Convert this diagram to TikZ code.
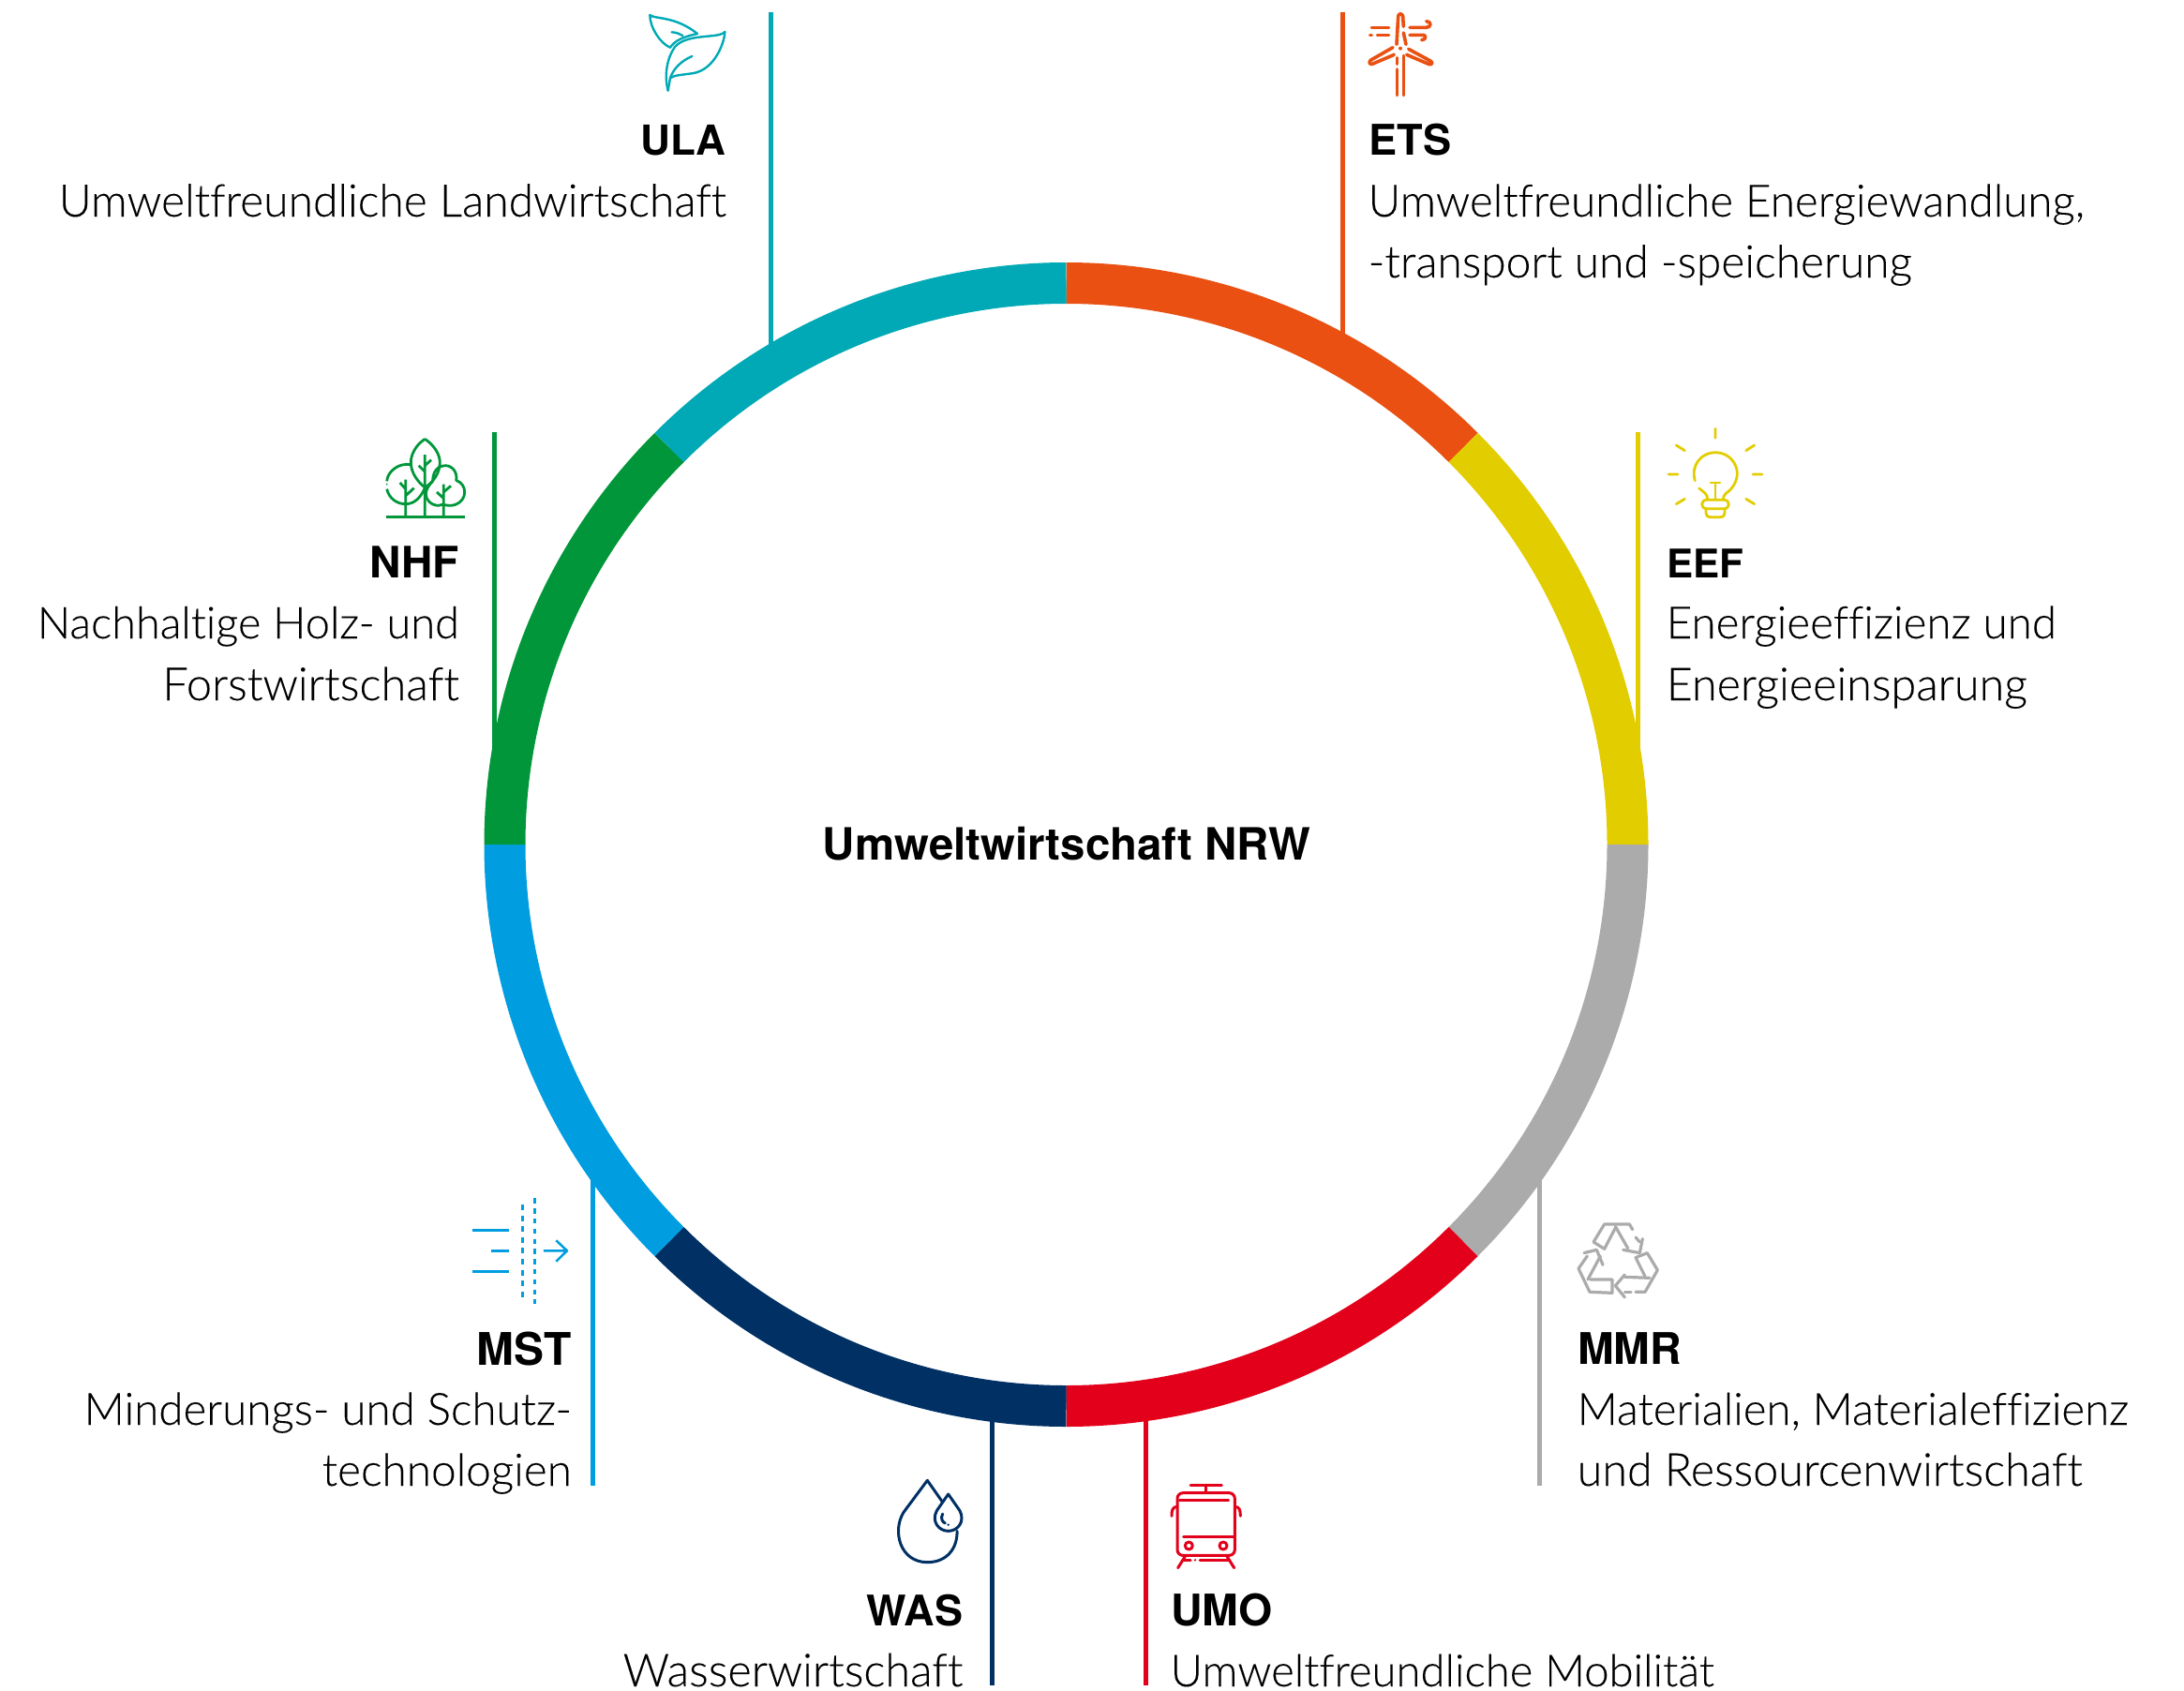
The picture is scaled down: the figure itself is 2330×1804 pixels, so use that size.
\documentclass[tikz,border=0pt]{standalone}
\usetikzlibrary{calc}
\usepackage{graphicx}
\usepackage{fontspec}
\setmainfont{Lato}[UprightFont=* Light,BoldFont=* Bold,Ligatures=NoCommon,FakeBold=0.12]
\newfontfamily\headfont{TeX Gyre Heros}[UprightFont=*-Bold]
\newcommand{\fitw}[2]{\resizebox{#1pt}{!}{\strut #2}}
\definecolor{cteal}{HTML}{00A9B5}
\definecolor{corange}{HTML}{E95012}
\definecolor{cyellow}{HTML}{E2CD00}
\definecolor{cgrey}{HTML}{ABABAB}
\definecolor{cred}{HTML}{E2001A}
\definecolor{cnavy}{HTML}{003064}
\definecolor{cblue}{HTML}{009DE0}
\definecolor{cgreen}{HTML}{009639}
\tikzset{
 seg/.style={line width=44pt,line cap=butt},
 conn/.style={line width=5pt},
 head/.style={font=\fontsize{47}{54}\selectfont\headfont,inner sep=0pt,text=black},
 desc/.style={font=\fontsize{47.5}{54}\selectfont,inner sep=0pt,text=black},
 icon/.style={line width=8.5pt,line cap=round,line join=round},
}
\begin{document}
\begin{tikzpicture}[x=1pt,y=-1pt]
\useasboundingbox (0,0) rectangle (2330,1804);
\coordinate (C) at (1137.5,901);
% connector ends
\coordinate (ulaT) at (822.5,13); \coordinate (ulaB) at (822.5,385);
\coordinate (etsT) at (1432.5,13); \coordinate (etsB) at (1432.5,375);
\coordinate (eefT) at (1747.5,461); \coordinate (eefB) at (1747.5,810);
\coordinate (nhfT) at (527.5,461); \coordinate (nhfB) at (527.5,810);
\coordinate (mstT) at (632.5,1585); \coordinate (mstB) at (632.5,1240);
\coordinate (mmrT) at (1642.5,1585); \coordinate (mmrB) at (1642.5,1240);
\coordinate (wasT) at (1058.5,1798); \coordinate (wasB) at (1058.5,1505);
\coordinate (umoT) at (1222.5,1798); \coordinate (umoB) at (1222.5,1505);
\draw[conn,cteal] (ulaT)--(ulaB);
\draw[conn,corange] (etsT)--(etsB);
\draw[conn,cyellow] (eefT)--(eefB);
\draw[conn,cgreen] (nhfT)--(nhfB);
\draw[conn,cblue] (mstT)--(mstB);
\draw[conn,cgrey] (mmrT)--(mmrB);
\draw[conn,cnavy] (wasT)--(wasB);
\draw[conn,cred] (umoT)--(umoB);
% ring (y axis flipped: angles run clockwise)
\foreach \c/\a in {corange/-90,cyellow/-45,cgrey/0,cred/45,cnavy/90,cblue/135,cgreen/180,cteal/225}
 \draw[seg,\c] ($(C)+(\a:599)$) arc[start angle=\a,delta angle=45,radius=599];
\node[head,anchor=base] (title) at (1138,917) {\fitw{520}{Umweltwirtschaft NRW}};
% texts
\node[head,anchor=base east] (ulaH) at (775,165) {\fitw{91}{ULA}};
\node[desc,anchor=base east] (ulaD) at (775,231) {\fitw{712}{Umweltfreundliche Landwirtschaft}};
\node[head,anchor=base west] (etsH) at (1460,165) {\fitw{88}{ETS}};
\node[desc,anchor=base west] (etsD) at (1459.5,231) {\fitw{764}{Umweltfreundliche Energiewandlung,}};
\node[desc,anchor=base west] (etsE) at (1459.5,296) {\fitw{580}{-transport und -speicherung}};
\node[head,anchor=base east] (nhfH) at (490,616) {\fitw{95}{NHF}};
\node[desc,anchor=base east] (nhfD) at (490,681) {\fitw{450}{Nachhaltige Holz- und}};
\node[desc,anchor=base east] (nhfE) at (490,747) {\fitw{316.5}{Forstwirtschaft}};
\node[head,anchor=base west] (eefH) at (1778,616) {\fitw{82}{EEF}};
\node[desc,anchor=base west] (eefD) at (1777.5,681) {\fitw{416}{Energieeffizienz und}};
\node[desc,anchor=base west] (eefE) at (1777.5,747) {\fitw{385}{Energieeinsparung}};
\node[head,anchor=base east] (mstH) at (610,1456) {\fitw{101}{MST}};
\node[desc,anchor=base east] (mstD) at (610,1520) {\fitw{520}{Minderungs- und Schutz-}};
\node[desc,anchor=base east] (mstE) at (610,1585) {\fitw{266}{technologien}};
\node[head,anchor=base west] (mmrH) at (1683,1455) {\fitw{111}{MMR}};
\node[desc,anchor=base west] (mmrD) at (1682.5,1520) {\fitw{588}{Materialien, Materialeffizienz}};
\node[desc,anchor=base west] (mmrE) at (1682.5,1585) {\fitw{539}{und Ressourcenwirtschaft}};
\node[head,anchor=base east] (wasH) at (1027.5,1734) {\fitw{102.5}{WAS}};
\node[desc,anchor=base east] (wasD) at (1027.5,1799) {\fitw{362.6}{Wasserwirtschaft}};
\node[head,anchor=base west] (umoH) at (1249,1734) {\fitw{108.5}{UMO}};
\node[desc,anchor=base west] (umoD) at (1248.5,1799) {\fitw{580}{Umweltfreundliche Mobilität}};
% leaf icon
\begin{scope}[shift={(670,0)},x=0.3333pt,y=-0.3333pt,icon,cteal,line width=2.4pt]
\draw (70,48) .. controls (85,62) and (150,50) .. (222,108);
\draw (70,48) .. controls (70,90) and (105,140) .. (135,152);
\draw (135,152) .. controls (150,130) and (175,118) .. (222,108);
\draw (140,103) .. controls (155,104) and (165,108) .. (175,114);
\draw (310,102) .. controls (290,125) and (190,105) .. (150,150) .. controls (125,185) and (115,240) .. (128,290);
\draw (310,102) .. controls (310,130) and (280,225) .. (205,235) .. controls (170,240) and (150,240) .. (135,250) -- (128,290);
\draw (205,180) .. controls (170,195) and (145,220) .. (135,250);
\end{scope}
% turbine icon
\begin{scope}[shift={(1440,0)},x=0.3333pt,y=-0.3333pt,icon,corange,line width=3.6pt]
\fill (162,155) circle[radius=6];
\draw (150,142) -- (155,52) .. controls (157,42) and (167,42) .. (170,52) -- (172,85);
\draw (172,105) -- (180,142);
\draw (138,152) -- (68,192) .. controls (60,197) and (62,208) .. (72,205) -- (142,175);
\draw (188,157) -- (258,195) .. controls (268,200) and (262,210) .. (252,205) -- (182,175);
\draw (152,185) -- (152,205);
\draw (152,222) -- (152,305);
\draw (173,178) -- (173,305);
\draw (70,88) -- (125,88);
\draw (65,112) -- (70,112);
\draw (88,112) -- (125,112);
\draw (192,88) -- (245,88) .. controls (262,88) and (262,68) .. (245,68);
\draw (192,112) -- (235,112) .. controls (245,112) and (245,128) .. (230,128);
\end{scope}
% trees icon
\begin{scope}[shift={(400,450)},x=0.3333pt,y=-0.3333pt,icon,cgreen,line width=2.8pt,line cap=butt]
\draw (35,304) -- (287,304);
\draw (98,304) -- (98,185) (80,195) -- (98,215) (125,212) -- (98,237);
\draw (160,304) -- (160,105) (140,140) -- (160,160) (180,122) -- (160,140);
\draw (220,304) -- (220,200) (198,225) -- (220,245) (243,205) -- (220,225);
\draw (115,137) .. controls (75,130) and (40,160) .. (38,190);
\fill (38,200) circle[radius=3];
\draw (38,215) .. controls (45,245) and (70,263) .. (98,263) .. controls (125,263) and (145,245) .. (160,212);
\draw (160,55) .. controls (130,75) and (115,105) .. (115,130) .. controls (115,165) and (140,195) .. (160,210) .. controls (185,195) and (208,165) .. (208,130) .. controls (208,105) and (190,75) .. (160,55);
\draw (185,190) .. controls (185,155) and (205,140) .. (225,140) .. controls (250,140) and (265,165) .. (260,187) .. controls (280,195) and (287,210) .. (287,225) .. controls (287,250) and (265,268) .. (240,268) .. controls (225,268) and (215,262) .. (205,268) .. controls (180,268) and (163,250) .. (163,232) .. controls (163,215) and (175,200) .. (185,190);
\end{scope}
% bulb icon
\begin{scope}[shift={(1770,450)},x=0.3333pt,y=-0.3333pt,icon,cyellow,line width=2.8pt]
\draw (180,22) -- (180,52) (55,75) -- (82,92) (305,75) -- (278,92) (30,168) -- (60,168) (300,168) -- (330,168) (55,263) -- (82,247) (278,247) -- (305,263);
\draw (115,188) .. controls (100,140) and (135,98) .. (180,98) .. controls (225,98) and (250,135) .. (250,165) .. controls (250,190) and (235,215) .. (215,228) .. controls (207,235) and (205,240) .. (205,250);
\draw (128,213) -- (147,228) .. controls (153,235) and (155,240) .. (155,250);
\draw (165,195) -- (195,195) (180,195) -- (180,250);
\draw (152,250) -- (208,250) .. controls (228,250) and (228,278) .. (208,278) -- (152,278) .. controls (132,278) and (132,250) .. (152,250) -- cycle;
\draw (150,278) -- (150,292) .. controls (150,300) and (155,305) .. (165,305) -- (195,305) .. controls (205,305) and (210,300) .. (210,292) -- (210,278);
\end{scope}
% membrane icon
\begin{scope}[shift={(490,1270)},x=0.3333pt,y=-0.3333pt,icon,cblue,line width=2.5pt,line cap=butt]
\draw (43,127) -- (160,127) (103,193) -- (160,193) (43,260) -- (160,260);
\draw[dash pattern=on 5.9pt off 5.7pt] (202,45) -- (202,342);
\draw[dash pattern=on 5.4pt off 5.4pt] (241,25) -- (241,362);
\draw (270,193) -- (345,193) (310,160) -- (345,193) -- (310,227);
\end{scope}
% recycle icon
\begin{scope}[shift={(1670,1290)},x=0.3333pt,y=-0.3333pt,icon,cgrey,line width=3.2pt]
\draw (215,65) -- (205,48) -- (125,48) -- (90,105) -- (125,127) -- (160,60);
\draw (160,55) -- (200,125);
\draw (185,130) -- (238,140) -- (247,95);
\draw (225,90) -- (238,105);
\draw (120,178) -- (100,130) -- (60,140);
\draw (70,150) -- (42,190) -- (78,265) -- (150,268) -- (150,225) -- (80,225);
\draw (112,150) -- (72,225);
\draw (225,265) -- (255,265) -- (295,195) -- (262,140) -- (225,155) -- (255,215);
\draw (190,210) -- (160,245) -- (190,282);
\draw (190,217) -- (270,220);
\draw (190,265) -- (210,265);
\end{scope}
% drops icon
\begin{scope}[shift={(940,1570)},x=0.3333pt,y=-0.3333pt,icon,cnavy,line width=3pt]
\draw (195,95) -- (148,28) -- (72,130) .. controls (35,190) and (60,290) .. (148,290) .. controls (215,290) and (245,240) .. (243,190);
\draw (215,72) -- (178,125) .. controls (160,160) and (185,190) .. (215,190) .. controls (245,190) and (270,160) .. (252,125) -- cycle;
\draw (197,135) .. controls (190,150) and (195,160) .. (205,165);
\fill (215,170) circle[radius=4];
\end{scope}
% tram icon
\begin{scope}[shift={(1240,1570)},x=0.3333pt,y=-0.3333pt,icon,cred,line width=3pt]
\draw (90,43) -- (190,43) (140,43) -- (140,68);
\draw[rounded corners=6pt] (48,68) rectangle (232,268);
\draw (55,90) -- (212,90) (68,208) -- (228,208);
\draw (85,237) circle[radius=12] (195,237) circle[radius=12];
\draw (30,142) .. controls (30,125) and (32,112) .. (48,112);
\draw (250,142) .. controls (250,125) and (248,112) .. (232,112);
\draw (75,268) -- (50,308) (205,268) -- (230,308);
\draw (65,283) -- (90,283) (120,283) -- (215,283);
\fill (105,283) circle[radius=4];
\end{scope}
\end{tikzpicture}
\end{document}
